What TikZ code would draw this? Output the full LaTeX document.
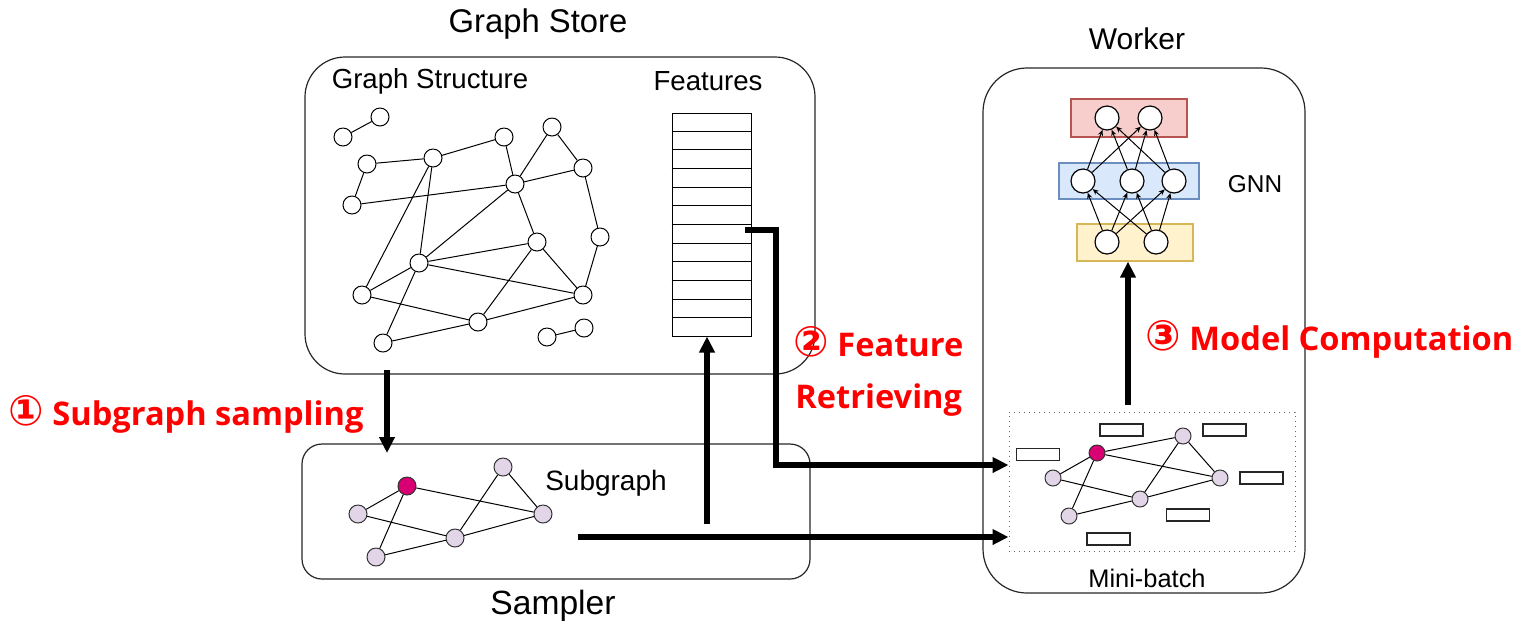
\documentclass[tikz,border=0pt]{standalone}
\usepackage{fontspec}
\setmainfont{Liberation Sans}
\newfontfamily\stepfont{Open Sans}
\newfontfamily\circfont{DejaVu Sans}
\usetikzlibrary{arrows.meta,calc}
\definecolor{stepred}{HTML}{FF0000}
\definecolor{hubnode}{HTML}{D80073}
\definecolor{sampnode}{HTML}{E1D5E7}
\definecolor{outfill}{HTML}{F8CECC}\definecolor{outline}{HTML}{B85450}
\definecolor{hidfill}{HTML}{DAE8FC}\definecolor{hidline}{HTML}{6C8EBF}
\definecolor{infill}{HTML}{FFF2CC}\definecolor{inline}{HTML}{D6B656}
\newcommand\setfs[1]{\fontsize{#1}{#1}\selectfont}
\tikzset{
  gnode/.style={circle, draw, fill=white, line width=0.5pt, minimum size=9pt, inner sep=0pt},
  snode/.style={circle, draw=black!80, fill=sampnode, line width=0.5pt, minimum size=9pt, inner sep=0pt},
  hnode/.style={snode, fill=hubnode},
  mnode/.style={snode, minimum size=8pt},
  mhnode/.style={mnode, fill=hubnode},
  nnode/.style={circle, draw, fill=white, line width=0.6pt, minimum size=12pt, inner sep=0pt},
  gedge/.style={line width=0.5pt},
  nnedge/.style={line width=0.5pt, -{Stealth[length=3pt,width=2.6pt]}},
  panel/.style={draw=black!85, line width=0.6pt, inner sep=0pt},
  layer/.style={draw, line width=0.6pt, inner sep=0pt},
  featbox/.style={rectangle, draw=black!85, fill=white, line width=0.55pt, minimum width=21.5pt, minimum height=6pt, inner sep=0pt},
  bigarrow/.style={line width=2.6pt, -{Triangle[length=8pt,width=7.5pt]}},
  title/.style={inner sep=0pt, font=\setfs{16.4}},
  caption/.style={inner sep=0pt, font=\setfs{13.8}},
  steplabel/.style={inner sep=0pt, text=stepred, font=\stepfont\bfseries\setfs{16.3}},
}
\newcommand\stepnum[1]{{\circfont\bfseries\setfs{21}#1}}
\begin{document}
\begin{tikzpicture}[x=0.5pt, y=-0.5pt]
\useasboundingbox (0,0) rectangle (1518,623);

% ---------------- Graph store ----------------
\node[panel, rounded corners=20pt, minimum width=255pt, minimum height=158.5pt] (store) at (560,215.5) {};
\node[title] (storetitle) at (538,24) {Graph Store};
\node[caption] (structtitle) at (430,81) {Graph Structure};
\node[caption] (feattitle) at (708,81) {Features};

% full graph
\foreach \n/\x/\y in {n1/343/137, n2/380/117, n3/367/164, n4/352/205, n5/433/158,
  n6/504/137, n7/552/127, n8/583/168, n9/515/184, n10/600/237, n11/537/242,
  n12/419/263, n13/362/295, n14/583/295, n15/478/322, n16/383/343, n17/547/337, n18/584/328}
  \node[gnode] (\n) at (\x,\y) {};
\foreach \a/\b in {n1/n2, n3/n5, n3/n4, n4/n9, n5/n6, n5/n12, n5/n13, n6/n9, n7/n9, n7/n8,
  n8/n9, n8/n10, n10/n14, n9/n12, n9/n11, n12/n11, n12/n13, n12/n14, n12/n16, n13/n15,
  n11/n15, n11/n14, n15/n14, n15/n16, n17/n18}
  \draw[gedge] (\a) -- (\b);

% feature table
\node[rectangle, draw, line width=0.5pt, minimum width=39.5pt, minimum height=111.5pt, inner sep=0pt] (feat) at (711.5,224.5) {};
\foreach \k in {1,...,11}
  \draw[line width=0.5pt] ($(feat.north west)!{\k/12}!(feat.south west)$) -- ($(feat.north east)!{\k/12}!(feat.south east)$);

% ---------------- Sampler ----------------
\node[panel, rounded corners=10pt, minimum width=254pt, minimum height=67.5pt] (sampler) at (556,511.5) {};
\node[title, font=\setfs{16.8}] (samplertitle) at (553,606) {Sampler};
\node[caption, font=\setfs{14}] (subtitle) at (606,483) {Subgraph};
\node[hnode] (s0) at (407,486) {};
\node[snode] (s1) at (358,514) {};
\node[snode] (s2) at (503,467) {};
\node[snode] (s3) at (543,514) {};
\node[snode] (s4) at (455,538) {};
\node[snode] (s5) at (376,557) {};
\foreach \a/\b in {s0/s1, s0/s3, s0/s5, s1/s4, s5/s4, s4/s2, s4/s3, s2/s3}
  \draw[gedge] (\a) -- (\b);

% ---------------- Worker ----------------
\node[panel, rounded corners=22pt, minimum width=161pt, minimum height=262.5pt] (worker) at (1144,330.5) {};
\node[title, font=\setfs{15}] (workertitle) at (1137,39) {Worker};

% GNN layers
\node[layer, draw=outline, fill=outfill, minimum width=58pt, minimum height=19pt] (outlayer) at (1129,118) {};
\node[layer, draw=hidline, fill=hidfill, minimum width=70pt, minimum height=18pt] (hidlayer) at (1129,181) {};
\node[layer, draw=inline, fill=infill, minimum width=58pt, minimum height=18.5pt] (inlayer) at (1135,242.5) {};
\node[caption, font=\setfs{12.2}] (gnntitle) at (1255,184) {GNN};
\node[nnode] (o1) at (1107,118) {};
\node[nnode] (o2) at (1150,118) {};
\node[nnode] (h1) at (1083,181) {};
\node[nnode] (h2) at (1132,181) {};
\node[nnode] (h3) at (1174,181) {};
\node[nnode] (i1) at (1107,242) {};
\node[nnode] (i2) at (1156,242) {};
\foreach \a in {i1,i2} \foreach \b in {h1,h2,h3} \draw[nnedge] (\a) -- (\b);
\foreach \a in {h1,h2,h3} \foreach \b in {o1,o2} \draw[nnedge] (\a) -- (\b);

% mini-batch
\node[draw=black!60, dotted, line width=0.5pt, minimum width=143pt, minimum height=69.5pt, inner sep=0pt] (mb) at (1152,481.5) {};
\node[caption, font=\setfs{12.7}] (mbtitle) at (1147,578) {Mini-batch};
\node[mhnode] (m0) at (1097,453) {};
\node[mnode] (m1) at (1053,478) {};
\node[mnode] (m2) at (1183,436) {};
\node[mnode] (m3) at (1220,478) {};
\node[mnode] (m4) at (1140,499) {};
\node[mnode] (m5) at (1069,516) {};
\foreach \a/\b in {m0/m1, m0/m2, m0/m3, m0/m5, m1/m4, m5/m4, m4/m2, m4/m3, m2/m3}
  \draw[gedge] (\a) -- (\b);
\foreach \f/\x/\y in {f1/1121.5/430, f2/1224.5/430, f3/1038/454.5, f4/1261.5/478, f5/1188/515, f6/1108.5/539}
  \node[featbox] (\f) at (\x,\y) {};

% ---------------- data flow ----------------
\coordinate (sampA) at (387,370);
\coordinate (sampB) at (387,453);
\draw[bigarrow] (sampA) -- (sampB);

\coordinate (fetchA) at (745,230);
\coordinate (fetchB) at (776,230);
\coordinate (fetchC) at (776,465);
\draw[bigarrow] (fetchA) -- (fetchB) -- (fetchC) -- (mb.west |- fetchC);

\coordinate (sgOut) at (578,537);
\draw[bigarrow] (sgOut) -- (mb.west |- sgOut);

\coordinate (idxUp) at (707,524);
\draw[bigarrow] (idxUp) -- (idxUp |- feat.south);

\coordinate (compA) at (1128,405);
\draw[bigarrow] (compA) -- (compA |- inlayer.south);

% step labels
\node[steplabel, anchor=west] (step1) at (8,414) {\stepnum{①} Subgraph sampling};
\node[steplabel, anchor=west] (step2) at (793,342) {\stepnum{②} Feature};
\node[steplabel, anchor=west] (step2b) at (795,400) {Retrieving};
\node[steplabel, anchor=west] (step3) at (1145,339) {\stepnum{③} Model Computation};
\end{tikzpicture}
\end{document}
